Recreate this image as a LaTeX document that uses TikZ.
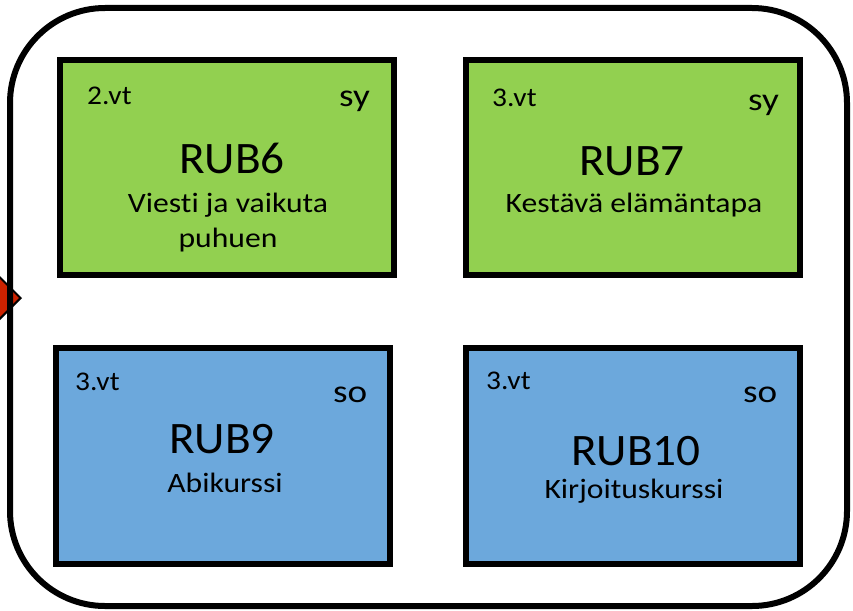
\documentclass[tikz,border=0pt]{standalone}
\usepackage{fontspec}
\setmainfont{Carlito}
\newfontfamily\codefont[FakeStretch=1.05]{Carlito}
\newfontfamily\titlefont[FakeStretch=1.13,Ligatures=NoCommon]{Carlito}
\newfontfamily\smallfont[FakeStretch=1.09]{Carlito}
\newfontfamily\kindfont[FakeStretch=1.16]{Carlito}
\usetikzlibrary{shapes.geometric}
\definecolor{boxgreen}{RGB}{146,208,80}
\definecolor{boxblue}{RGB}{108,168,220}
\definecolor{diared}{RGB}{204,34,0}
\newcommand{\fsz}[1]{\fontsize{#1}{#1}\selectfont}
\tikzset{
  course/.style={draw=black, line width=6pt, minimum width=334pt, minimum height=215pt, inner sep=0pt, outer sep=0pt},
  gbox/.style={course, fill=boxgreen},
  bbox/.style={course, fill=boxblue},
  term/.style={anchor=base west, inner sep=0pt, font=\smallfont\fsz{27}},
  kind/.style={anchor=base west, inner sep=0pt, font=\kindfont\fsz{32}},
  code/.style={anchor=base, inner sep=0pt, font=\codefont\fsz{45}},
  title/.style={anchor=base, inner sep=0pt, font=\titlefont\fsz{28}}
}
\begin{document}
\begin{tikzpicture}[x=1pt,y=-1pt]
\useasboundingbox (0,0) rectangle (853,610);
\fill[white] (0,0) rectangle (853,610);
% red diamond at left edge
\node[diamond, draw=black, line width=2pt, fill=diared, minimum width=46pt, minimum height=46pt, inner sep=0pt] (dia) at (-2,298) {};
% outer frame
\node[draw=black, line width=6pt, rounded corners=95pt, minimum width=837pt, minimum height=598pt, inner sep=0pt] (frame) at (428.5,307) {};
% boxes
\node[gbox] (b6) at (227,167.5) {};
\node[gbox] (b7) at (633,167.5) {};
\node[bbox, minimum height=216pt] (b9) at (223,456) {};
\node[bbox, minimum height=216pt] (b10) at (633,456) {};
% RUB6
\node[term] (t6) at (87,104) {2.vt};
\node[kind] (k6) at (339,106) {sy};
\node[code] (c6) at (232,173) {RUB6};
\node[title] (n6a) at (228,212) {Viesti ja vaikuta};
\node[title] (n6b) at (228,247) {puhuen};
% RUB7
\node[term] (t7) at (492,106) {3.vt};
\node[kind] (k7) at (748,110) {sy};
\node[code] (c7) at (632,175) {RUB7};
\node[title] (n7) at (634,212) {Kestävä elämäntapa};
% RUB9
\node[term] (t9) at (75,390) {3.vt};
\node[kind] (k9) at (333,402) {so};
\node[code] (c9) at (222,453) {RUB9};
\node[title] (n9) at (225,492) {Abikurssi};
% RUB10
\node[term] (t10) at (486,389) {3.vt};
\node[kind] (k10) at (743,402) {so};
\node[code] (c10) at (636,465) {RUB10};
\node[title] (n10) at (634,498) {Kirjoituskurssi};
\end{tikzpicture}
\end{document}
